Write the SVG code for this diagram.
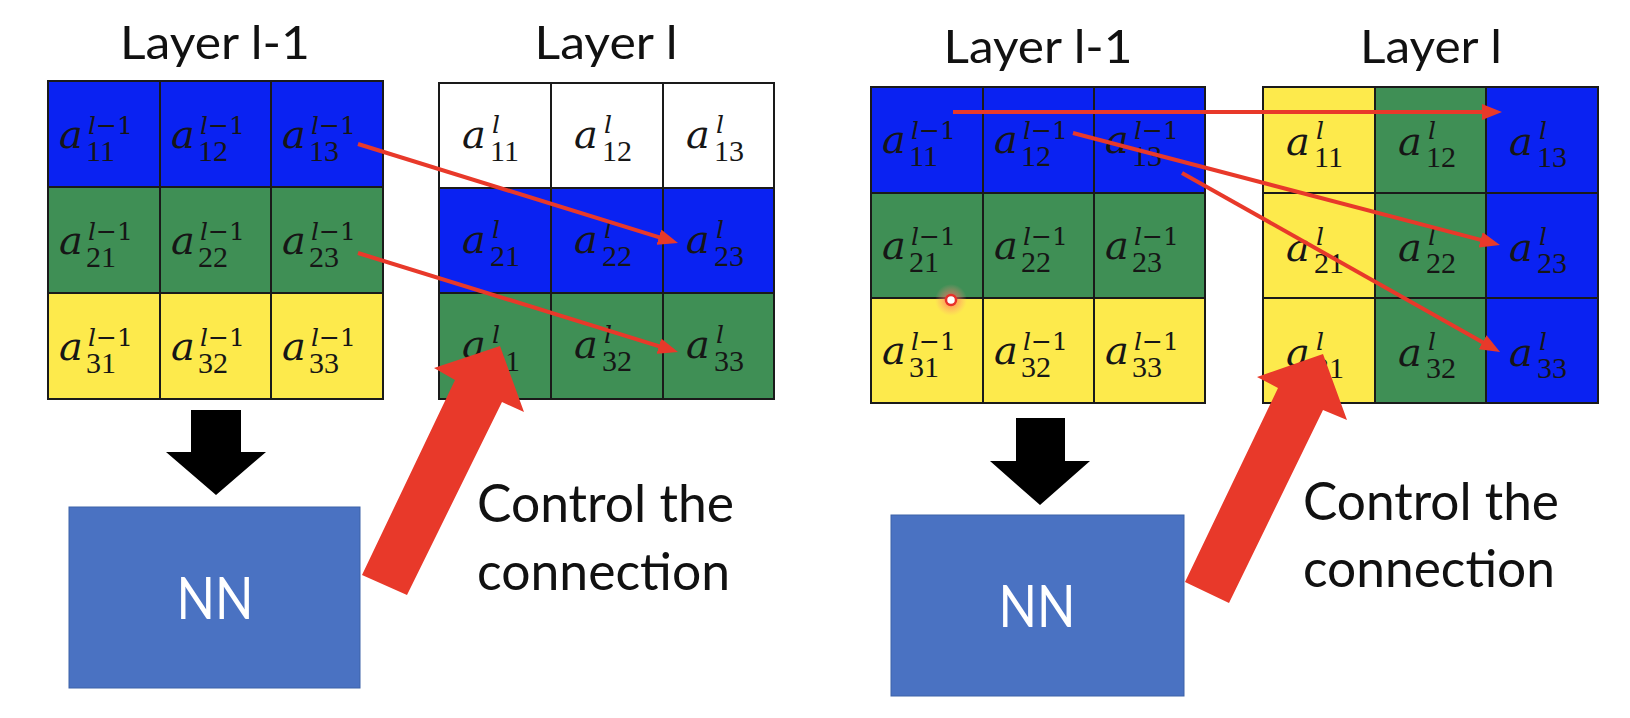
<svg xmlns="http://www.w3.org/2000/svg" width="1630" height="718" viewBox="0 0 1630 718">
<style>
.c{stroke:#1a1a1a;stroke-width:2}
.blue{fill:#0a22f2}
.green{fill:#3f8f55}
.yellow{fill:#fdea4c}
.white{fill:#ffffff}
.m{fill:#161616}
.a{font-family:"DejaVu Serif",serif;font-style:italic;font-size:40px}
.sp{font-family:"DejaVu Serif",serif;font-size:25px;font-style:normal}
.sb{font-family:"Liberation Serif",serif;font-size:30px;font-style:normal}
.it{font-style:italic}
.title{font-family:Lato,"Open Sans",sans-serif;font-size:47px;fill:#111;text-anchor:middle}
.lbl{font-family:Lato,"Open Sans",sans-serif;font-size:53px;fill:#111}
.nn{fill:#4a72c2;stroke:#3d62a8;stroke-width:1}
.nnt{font-family:Lato,"Open Sans",sans-serif;font-size:58px;fill:#fff;text-anchor:middle}
.thin{stroke:#e8392a;stroke-width:4;fill:none;marker-end:url(#ah)}
.big{fill:#e8392a}
.blk{fill:#000}
</style>
<defs>
<marker id="ah" markerWidth="20" markerHeight="16" refX="4" refY="8" orient="auto" markerUnits="userSpaceOnUse"><path d="M0,0 L20,8 L0,16 z" fill="#e8392a"/></marker>
<radialGradient id="glow"><stop offset="0" stop-color="#ff5a4a" stop-opacity="0.85"/><stop offset="0.5" stop-color="#ff7a6a" stop-opacity="0.45"/><stop offset="1" stop-color="#ff9a8a" stop-opacity="0"/></radialGradient>
</defs>
<rect width="1630" height="718" fill="#fff"/>

<text id="t-left-prev" class="title" x="215" y="59" textLength="190" lengthAdjust="spacingAndGlyphs">Layer l-1</text>
<text id="t-left-cur" class="title" x="606" y="59" textLength="143" lengthAdjust="spacingAndGlyphs">Layer l</text>
<text id="t-right-prev" class="title" x="1038" y="63" textLength="189" lengthAdjust="spacingAndGlyphs">Layer l-1</text>
<text id="t-right-cur" class="title" x="1431" y="63" textLength="142" lengthAdjust="spacingAndGlyphs">Layer l</text>

<!-- Left panel: Layer l-1 -->
<g id="L-prev">
<g id="L-prev-11" transform="translate(48,81)"><rect class="c blue" width="112" height="106"/><text class="m"><tspan class="a" x="11" y="67">a</tspan><tspan class="sp" x="40" y="53"><tspan class="it">l</tspan>−1</tspan><tspan class="sb" x="38" y="80">11</tspan></text></g>
<g id="L-prev-12" transform="translate(160,81)"><rect class="c blue" width="111" height="106"/><text class="m"><tspan class="a" x="11" y="67">a</tspan><tspan class="sp" x="40" y="53"><tspan class="it">l</tspan>−1</tspan><tspan class="sb" x="38" y="80">12</tspan></text></g>
<g id="L-prev-13" transform="translate(271,81)"><rect class="c blue" width="112" height="106"/><text class="m"><tspan class="a" x="11" y="67">a</tspan><tspan class="sp" x="40" y="53"><tspan class="it">l</tspan>−1</tspan><tspan class="sb" x="38" y="80">13</tspan></text></g>
<g id="L-prev-21" transform="translate(48,187)"><rect class="c green" width="112" height="106"/><text class="m"><tspan class="a" x="11" y="67">a</tspan><tspan class="sp" x="40" y="53"><tspan class="it">l</tspan>−1</tspan><tspan class="sb" x="38" y="80">21</tspan></text></g>
<g id="L-prev-22" transform="translate(160,187)"><rect class="c green" width="111" height="106"/><text class="m"><tspan class="a" x="11" y="67">a</tspan><tspan class="sp" x="40" y="53"><tspan class="it">l</tspan>−1</tspan><tspan class="sb" x="38" y="80">22</tspan></text></g>
<g id="L-prev-23" transform="translate(271,187)"><rect class="c green" width="112" height="106"/><text class="m"><tspan class="a" x="11" y="67">a</tspan><tspan class="sp" x="40" y="53"><tspan class="it">l</tspan>−1</tspan><tspan class="sb" x="38" y="80">23</tspan></text></g>
<g id="L-prev-31" transform="translate(48,293)"><rect class="c yellow" width="112" height="106"/><text class="m"><tspan class="a" x="11" y="67">a</tspan><tspan class="sp" x="40" y="53"><tspan class="it">l</tspan>−1</tspan><tspan class="sb" x="38" y="80">31</tspan></text></g>
<g id="L-prev-32" transform="translate(160,293)"><rect class="c yellow" width="111" height="106"/><text class="m"><tspan class="a" x="11" y="67">a</tspan><tspan class="sp" x="40" y="53"><tspan class="it">l</tspan>−1</tspan><tspan class="sb" x="38" y="80">32</tspan></text></g>
<g id="L-prev-33" transform="translate(271,293)"><rect class="c yellow" width="112" height="106"/><text class="m"><tspan class="a" x="11" y="67">a</tspan><tspan class="sp" x="40" y="53"><tspan class="it">l</tspan>−1</tspan><tspan class="sb" x="38" y="80">33</tspan></text></g>
</g>

<!-- Left panel: Layer l -->
<g id="L-cur">
<g id="L-cur-11" transform="translate(439,83)"><rect class="c white" width="112" height="105"/><text class="m"><tspan class="a" x="23" y="65">a</tspan><tspan class="sp it" x="53" y="50">l</tspan><tspan class="sb" x="51" y="78">11</tspan></text></g>
<g id="L-cur-12" transform="translate(551,83)"><rect class="c white" width="112" height="105"/><text class="m"><tspan class="a" x="23" y="65">a</tspan><tspan class="sp it" x="53" y="50">l</tspan><tspan class="sb" x="51" y="78">12</tspan></text></g>
<g id="L-cur-13" transform="translate(663,83)"><rect class="c white" width="111" height="105"/><text class="m"><tspan class="a" x="23" y="65">a</tspan><tspan class="sp it" x="53" y="50">l</tspan><tspan class="sb" x="51" y="78">13</tspan></text></g>
<g id="L-cur-21" transform="translate(439,188)"><rect class="c blue" width="112" height="105"/><text class="m"><tspan class="a" x="23" y="65">a</tspan><tspan class="sp it" x="53" y="50">l</tspan><tspan class="sb" x="51" y="78">21</tspan></text></g>
<g id="L-cur-22" transform="translate(551,188)"><rect class="c blue" width="112" height="105"/><text class="m"><tspan class="a" x="23" y="65">a</tspan><tspan class="sp it" x="53" y="50">l</tspan><tspan class="sb" x="51" y="78">22</tspan></text></g>
<g id="L-cur-23" transform="translate(663,188)"><rect class="c blue" width="111" height="105"/><text class="m"><tspan class="a" x="23" y="65">a</tspan><tspan class="sp it" x="53" y="50">l</tspan><tspan class="sb" x="51" y="78">23</tspan></text></g>
<g id="L-cur-31" transform="translate(439,293)"><rect class="c green" width="112" height="106"/><text class="m"><tspan class="a" x="23" y="65">a</tspan><tspan class="sp it" x="53" y="50">l</tspan><tspan class="sb" x="51" y="78">31</tspan></text></g>
<g id="L-cur-32" transform="translate(551,293)"><rect class="c green" width="112" height="106"/><text class="m"><tspan class="a" x="23" y="65">a</tspan><tspan class="sp it" x="53" y="50">l</tspan><tspan class="sb" x="51" y="78">32</tspan></text></g>
<g id="L-cur-33" transform="translate(663,293)"><rect class="c green" width="111" height="106"/><text class="m"><tspan class="a" x="23" y="65">a</tspan><tspan class="sp it" x="53" y="50">l</tspan><tspan class="sb" x="51" y="78">33</tspan></text></g>
</g>

<!-- Right panel: Layer l-1 -->
<g id="R-prev">
<g id="R-prev-11" transform="translate(871,87)"><rect class="c blue" width="112" height="106"/><text class="m"><tspan class="a" x="11" y="66">a</tspan><tspan class="sp" x="40" y="52"><tspan class="it">l</tspan>−1</tspan><tspan class="sb" x="38" y="79">11</tspan></text></g>
<g id="R-prev-12" transform="translate(983,87)"><rect class="c blue" width="111" height="106"/><text class="m"><tspan class="a" x="11" y="66">a</tspan><tspan class="sp" x="40" y="52"><tspan class="it">l</tspan>−1</tspan><tspan class="sb" x="38" y="79">12</tspan></text></g>
<g id="R-prev-13" transform="translate(1094,87)"><rect class="c blue" width="111" height="106"/><text class="m"><tspan class="a" x="11" y="66">a</tspan><tspan class="sp" x="40" y="52"><tspan class="it">l</tspan>−1</tspan><tspan class="sb" x="38" y="79">13</tspan></text></g>
<g id="R-prev-21" transform="translate(871,193)"><rect class="c green" width="112" height="105"/><text class="m"><tspan class="a" x="11" y="66">a</tspan><tspan class="sp" x="40" y="52"><tspan class="it">l</tspan>−1</tspan><tspan class="sb" x="38" y="79">21</tspan></text></g>
<g id="R-prev-22" transform="translate(983,193)"><rect class="c green" width="111" height="105"/><text class="m"><tspan class="a" x="11" y="66">a</tspan><tspan class="sp" x="40" y="52"><tspan class="it">l</tspan>−1</tspan><tspan class="sb" x="38" y="79">22</tspan></text></g>
<g id="R-prev-23" transform="translate(1094,193)"><rect class="c green" width="111" height="105"/><text class="m"><tspan class="a" x="11" y="66">a</tspan><tspan class="sp" x="40" y="52"><tspan class="it">l</tspan>−1</tspan><tspan class="sb" x="38" y="79">23</tspan></text></g>
<g id="R-prev-31" transform="translate(871,298)"><rect class="c yellow" width="112" height="105"/><text class="m"><tspan class="a" x="11" y="66">a</tspan><tspan class="sp" x="40" y="52"><tspan class="it">l</tspan>−1</tspan><tspan class="sb" x="38" y="79">31</tspan></text></g>
<g id="R-prev-32" transform="translate(983,298)"><rect class="c yellow" width="111" height="105"/><text class="m"><tspan class="a" x="11" y="66">a</tspan><tspan class="sp" x="40" y="52"><tspan class="it">l</tspan>−1</tspan><tspan class="sb" x="38" y="79">32</tspan></text></g>
<g id="R-prev-33" transform="translate(1094,298)"><rect class="c yellow" width="111" height="105"/><text class="m"><tspan class="a" x="11" y="66">a</tspan><tspan class="sp" x="40" y="52"><tspan class="it">l</tspan>−1</tspan><tspan class="sb" x="38" y="79">33</tspan></text></g>
</g>

<!-- Right panel: Layer l -->
<g id="R-cur">
<g id="R-cur-11" transform="translate(1263,87)"><rect class="c yellow" width="112" height="106"/><text class="m"><tspan class="a" x="23" y="68">a</tspan><tspan class="sp it" x="53" y="52">l</tspan><tspan class="sb" x="51" y="80">11</tspan></text></g>
<g id="R-cur-12" transform="translate(1375,87)"><rect class="c green" width="111" height="106"/><text class="m"><tspan class="a" x="23" y="68">a</tspan><tspan class="sp it" x="53" y="52">l</tspan><tspan class="sb" x="51" y="80">12</tspan></text></g>
<g id="R-cur-13" transform="translate(1486,87)"><rect class="c blue" width="112" height="106"/><text class="m"><tspan class="a" x="23" y="68">a</tspan><tspan class="sp it" x="53" y="52">l</tspan><tspan class="sb" x="51" y="80">13</tspan></text></g>
<g id="R-cur-21" transform="translate(1263,193)"><rect class="c yellow" width="112" height="105"/><text class="m"><tspan class="a" x="23" y="68">a</tspan><tspan class="sp it" x="53" y="52">l</tspan><tspan class="sb" x="51" y="80">21</tspan></text></g>
<g id="R-cur-22" transform="translate(1375,193)"><rect class="c green" width="111" height="105"/><text class="m"><tspan class="a" x="23" y="68">a</tspan><tspan class="sp it" x="53" y="52">l</tspan><tspan class="sb" x="51" y="80">22</tspan></text></g>
<g id="R-cur-23" transform="translate(1486,193)"><rect class="c blue" width="112" height="105"/><text class="m"><tspan class="a" x="23" y="68">a</tspan><tspan class="sp it" x="53" y="52">l</tspan><tspan class="sb" x="51" y="80">23</tspan></text></g>
<g id="R-cur-31" transform="translate(1263,298)"><rect class="c yellow" width="112" height="105"/><text class="m"><tspan class="a" x="23" y="68">a</tspan><tspan class="sp it" x="53" y="52">l</tspan><tspan class="sb" x="51" y="80">31</tspan></text></g>
<g id="R-cur-32" transform="translate(1375,298)"><rect class="c green" width="111" height="105"/><text class="m"><tspan class="a" x="23" y="68">a</tspan><tspan class="sp it" x="53" y="52">l</tspan><tspan class="sb" x="51" y="80">32</tspan></text></g>
<g id="R-cur-33" transform="translate(1486,298)"><rect class="c blue" width="112" height="105"/><text class="m"><tspan class="a" x="23" y="68">a</tspan><tspan class="sp it" x="53" y="52">l</tspan><tspan class="sb" x="51" y="80">33</tspan></text></g>
</g>

<g id="nn-left"><rect class="nn" x="69" y="507" width="291" height="181"/><text class="nnt" x="215" y="619" textLength="77" lengthAdjust="spacingAndGlyphs">NN</text></g>
<g id="nn-right"><rect class="nn" x="891" y="515" width="293" height="181"/><text class="nnt" x="1037" y="627" textLength="77" lengthAdjust="spacingAndGlyphs">NN</text></g>

<g id="label-left"><text class="lbl" x="477" y="522" textLength="257" lengthAdjust="spacingAndGlyphs">Control the</text><text class="lbl" x="477" y="590" textLength="253" lengthAdjust="spacingAndGlyphs">connection</text></g>
<g id="label-right"><text class="lbl" x="1303" y="520" textLength="256" lengthAdjust="spacingAndGlyphs">Control the</text><text class="lbl" x="1303" y="587" textLength="252" lengthAdjust="spacingAndGlyphs">connection</text></g>

<g id="connectors">
<line class="thin" x1="358" y1="144" x2="662.7" y2="238.3"/>
<line class="thin" x1="358" y1="253" x2="662.7" y2="347.3"/>
<line class="thin" x1="953" y1="112" x2="1486" y2="112"/>
<line class="thin" x1="1073" y1="133" x2="1484.5" y2="240.9"/>
<line class="thin" x1="1182" y1="173" x2="1486.1" y2="344.2"/>
<polygon class="blk" points="191,410 241,410 241,452 266,452 216,495 166,452 191,452"/>
<polygon class="blk" points="1016,418 1065,418 1065,461 1090,461 1040,505 990,461 1016,461"/>
<polygon class="big" points="362,575 455,380 434,368 500,346 524,412 502,402 407,595"/>
<polygon class="big" points="1185,582 1278,388 1257,377 1323,354 1347,420 1323,410 1229,603"/>
</g>

<g id="pointer"><circle cx="951" cy="300" r="16" fill="url(#glow)"/><circle cx="951" cy="300" r="5" fill="#fff" stroke="#e8302a" stroke-width="2.5"/></g>
</svg>
